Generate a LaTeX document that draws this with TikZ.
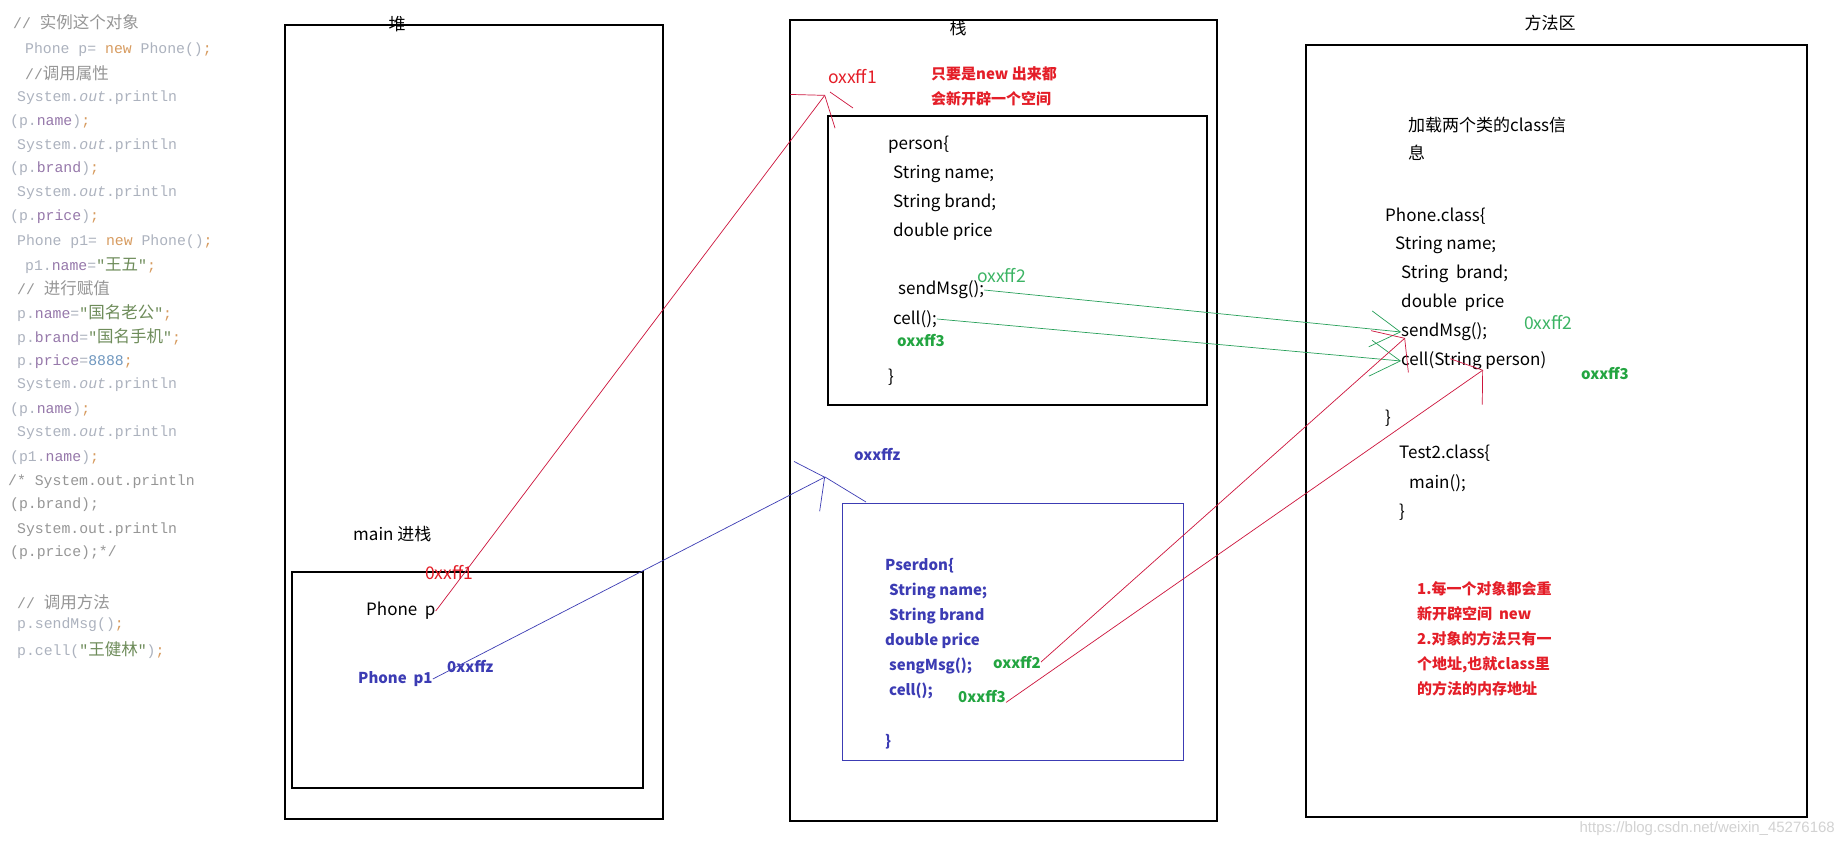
\documentclass[tikz,border=0pt]{standalone}
\usepackage{fontspec}
\setmainfont{Noto Sans CJK SC}
\newfontfamily\cjkfont{Noto Sans CJK SC}
\newfontfamily\codefont{Liberation Mono}
\newfontfamily\urlfont{Liberation Sans}
\usepackage{xcolor}
\usepackage{tikz}
\usetikzlibrary{arrows.meta, positioning}

\definecolor{memred}{RGB}{228,30,40}
\definecolor{linered}{RGB}{205,20,60}
\definecolor{memgreen}{RGB}{35,165,65}
\definecolor{lightgreen}{RGB}{60,180,100}
\definecolor{linegreen}{RGB}{40,160,90}
\definecolor{memblue}{RGB}{60,60,180}
\definecolor{codegray}{RGB}{172,178,190}
\definecolor{codecmt}{RGB}{150,150,150}
\definecolor{codekw}{RGB}{215,155,95}
\definecolor{codefld}{RGB}{150,120,170}
\definecolor{codestr}{RGB}{110,140,90}
\definecolor{codenum}{RGB}{110,150,190}

\newcommand{\zhtxt}[1]{{\cjkfont\fontsize{16.5}{17}\selectfont #1}}
\newcommand{\kw}[1]{\textcolor{codekw}{#1}}
\newcommand{\fld}[1]{\textcolor{codefld}{#1}}
\newcommand{\strg}[1]{\textcolor{codestr}{#1}}
\newcommand{\nmb}[1]{\textcolor{codenum}{#1}}
\newcommand{\cmt}[1]{\textcolor{codecmt}{#1}}

\begin{document}
\begin{tikzpicture}[x=1pt, y=-1pt,
  region/.style={draw, line width=1.2pt},
  title/.style={inner sep=0pt, font=\fontsize{17}{17}\selectfont},
  txt/.style={anchor=west, inner sep=0pt, font=\fontsize{17}{17}\selectfont},
  objtxt/.style={anchor=west, inner sep=0pt, text=memblue, font=\fontsize{15}{15}\selectfont\bfseries},
  note/.style={anchor=west, inner sep=0pt, align=left, text=memred, font=\fontsize{15}{25}\selectfont\bfseries},
  addr/.style={anchor=west, inner sep=0pt, font=\fontsize{17.5}{17.5}\selectfont},
  baddr/.style={anchor=west, inner sep=0pt, font=\fontsize{15}{15}\selectfont\bfseries},
  code/.style={anchor=west, inner sep=0pt, text=codegray, font=\codefont\fontsize{14.8}{15}\selectfont},
  refarrow/.style={draw=linered, line width=0.7pt, -{Straight Barb[length=20pt,width=56pt]}},
  ptrarrow/.style={draw=memblue, line width=0.7pt, -{Straight Barb[length=20pt,width=56pt]}},
  callarrow/.style={draw=linegreen, line width=0.7pt, -{Straight Barb[length=30pt,width=36pt]}}
]
  \fill[white] (0,0) rectangle (1845,849);
  \useasboundingbox (0,0) rectangle (1845,849);

  % Java code on the left
  \node[code] (c1) at (13,22) {\cmt{// \zhtxt{实例这个对象}}};
  \node[code] (c2) at (25,50) {Phone p= \kw{new} Phone()\kw{;}};
  \node[code] (c3) at (25,73) {\cmt{//\zhtxt{调用属性}}};
  \node[code] (c4) at (17,98) {System.\textit{out}.println};
  \node[code] (c5) at (10,122) {(p.\fld{name})\kw{;}};
  \node[code] (c6) at (17,146) {System.\textit{out}.println};
  \node[code] (c7) at (10,169) {(p.\fld{brand})\kw{;}};
  \node[code] (c8) at (17,193) {System.\textit{out}.println};
  \node[code] (c9) at (10,217) {(p.\fld{price})\kw{;}};
  \node[code] (c10) at (17,242) {Phone p1= \kw{new} Phone()\kw{;}};
  \node[code] (c11) at (25,266) {p1.\fld{name}=\strg{"\zhtxt{王五}"}\kw{;}};
  \node[code] (c12) at (17,288) {\cmt{// \zhtxt{进行赋值}}};
  \node[code] (c13) at (17,313) {p.\fld{name}=\strg{"\zhtxt{国名老公}"}\kw{;}};
  \node[code] (c14) at (17,337) {p.\fld{brand}=\strg{"\zhtxt{国名手机}"}\kw{;}};
  \node[code] (c15) at (17,362) {p.\fld{price}=\nmb{8888}\kw{;}};
  \node[code] (c16) at (17,385) {System.\textit{out}.println};
  \node[code] (c17) at (10,410) {(p.\fld{name})\kw{;}};
  \node[code] (c18) at (17,433) {System.\textit{out}.println};
  \node[code] (c19) at (10,458) {(p1.\fld{name})\kw{;}};
  \node[code, text=codecmt] (c20) at (8,482) {/* System.out.println};
  \node[code, text=codecmt] (c21) at (10,505) {(p.brand);};
  \node[code, text=codecmt] (c22) at (17,530) {System.out.println};
  \node[code, text=codecmt] (c23) at (10,553) {(p.price);*/};
  \node[code] (c25) at (17,602) {\cmt{// \zhtxt{调用方法}}};
  \node[code] (c26) at (17,625) {p.sendMsg()\kw{;}};
  \node[code] (c27) at (17,650) {p.cell(\strg{"\zhtxt{王健林}"})\kw{;}};

  % Heap
  \draw[region] (285,25) rectangle (663,819);
  \node[title] (heaplbl) at (397,24) {堆};
  \node[txt] (mainlbl) at (353,534) {main 进栈};
  \draw[region] (292,572) rectangle (643,788);
  \node[addr, text=memred] (hf1) at (425,573) {0xxff1};
  \node[txt] (pvar) at (366,611) {Phone~~p};
  \node[baddr, text=memblue] (hfz) at (447,666) {0xxffz};
  \node[objtxt] (p1var) at (358,679) {Phone~~p1};

  % Stack
  \draw[region] (790,20) rectangle (1217,821);
  \node[title] (stacklbl) at (958,28) {栈};
  \node[addr, text=memred] (sf1) at (828,77) {oxxff1};
  \node[note] (newnote) at (931,86.5) {只要是new 出来都\\会新开辟一个空间};
  \draw[region] (828,116) rectangle (1207,405);
  \node[txt] (pname) at (888,145) {person\{};
  \node[txt] (pf1) at (893,174) {String name;};
  \node[txt] (pf2) at (893,203) {String brand;};
  \node[txt] (pf3) at (893,232) {double price};
  \node[addr, text=lightgreen] (sf2) at (977,276) {oxxff2};
  \node[txt] (smsg) at (898,290) {sendMsg();};
  \node[txt] (scell) at (893,319) {cell();};
  \node[baddr, text=memgreen] (sf3) at (897,341) {oxxff3};
  \node[txt] (pend) at (888,377) {\}};

  % second object
  \node[baddr, text=memblue] (sfz) at (854,455) {oxxffz};
  \draw[region, draw=memblue, line width=1pt] (842,503) rectangle (1183,760);
  \node[objtxt] (oname) at (885,566) {Pserdon\{};
  \node[objtxt] (of1) at (889,591) {String name;};
  \node[objtxt] (ofb) at (889,616) {String brand};
  \node[objtxt] (ofp) at (885,641) {double price};
  \node[objtxt] (omsg) at (889,666) {sengMsg();};
  \node[objtxt] (ocell) at (889,691) {cell();};
  \node[objtxt] (oend) at (885,742) {\}};
  \node[baddr, text=memgreen] (of2) at (993,662) {oxxff2};
  \node[baddr, text=memgreen] (of3) at (958,696) {0xxff3};

  % Method area
  \draw[region] (1306,45) rectangle (1807,817);
  \node[title] (methodlbl) at (1550,23) {方法区};
  \node[txt, align=left, font=\fontsize{17}{28}\selectfont] (loadnote) at (1408,139) {加载两个类的class信\\息};
  \node[txt] (cphone) at (1385,216) {Phone.class\{};
  \node[txt] (mf1) at (1395,245) {String name;};
  \node[txt] (mfb) at (1401,274) {String~~brand;};
  \node[txt] (mfp) at (1401,303) {double~~price};
  \node[txt] (msend) at (1401,332) {sendMsg();};
  \node[txt] (mcell) at (1401,361) {cell(String person)};
  \node[addr, text=lightgreen] (mf2) at (1524,323) {0xxff2};
  \node[baddr, text=memgreen] (mf3) at (1581,374) {oxxff3};
  \node[txt] (cend) at (1385,418) {\}};
  \node[txt] (ctest) at (1399,453) {Test2.class\{};
  \node[txt] (cmain) at (1409,483) {main();};
  \node[txt] (tend) at (1399,512) {\}};
  \node[note] (rule) at (1417,639) {1.每一个对象都会重\\新开辟空间~~new\\2.对象的方法只有一\\个地址,也就class里\\的方法的内存地址};

  % arrow ends
  \coordinate (tipA) at (825,95);
  \coordinate (tipB) at (825,477);
  \coordinate (tipE) at (1405,338);
  \coordinate (tipF) at (1483,370);

  % references and calls
  \draw[refarrow] (pvar.east) -- (tipA);
  \draw[ptrarrow] (p1var.east) -- (tipB);
  \draw[callarrow] (smsg.east) -- (msend.west);
  \draw[callarrow] (scell.east) -- (mcell.west);
  \draw[refarrow] (of2.east) -- (tipE);
  \draw[refarrow] (of3.south east) -- (tipF);
  \draw[linered, line width=0.7pt] (tipA) ++(5,-3) -- ++(23,16);
  \draw[memblue, line width=0.7pt] (tipB) -- ++(41,25);

  \node[anchor=east, inner sep=0pt, text=gray!35, font=\urlfont\fontsize{15}{15}\selectfont] (wmark) at (1835,829) {https://blog.csdn.net/weixin\_45276168};
\end{tikzpicture}
\end{document}
